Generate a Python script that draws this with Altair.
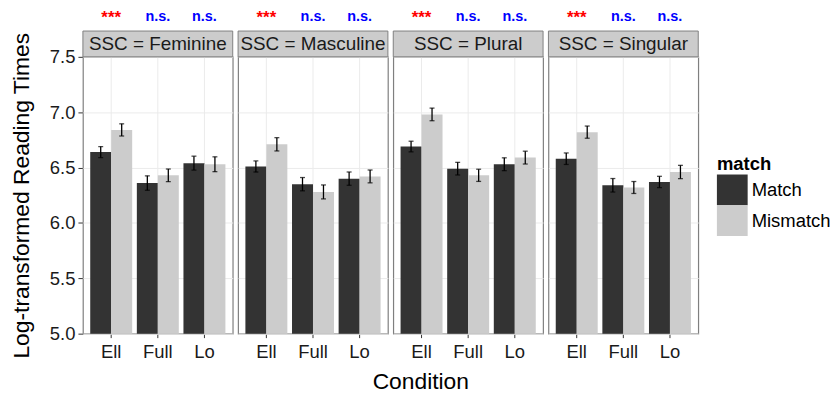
import altair as alt
import pandas as pd

# ---- data ----
ssc_levels = ["Feminine", "Masculine", "Plural", "Singular"]
conditions = ["Ell", "Full", "Lo"]
matches = ["Match", "Mismatch"]
significance = ["***", "n.s.", "n.s."]  # per condition (Ell, Full, Lo)

# means, ordered Ell-Match, Ell-Mismatch, Full-Match, Full-Mismatch, Lo-Match, Lo-Mismatch
mean_feminine = [6.64, 6.84, 6.36, 6.43, 6.54, 6.53]
mean_masculine = [6.51, 6.71, 6.35, 6.28, 6.40, 6.42]
mean_plural = [6.69, 6.98, 6.49, 6.43, 6.53, 6.59]
mean_singular = [6.58, 6.82, 6.34, 6.32, 6.37, 6.46]

# error-bar half widths, same order
err_feminine = [0.050, 0.055, 0.065, 0.057, 0.063, 0.067]
err_masculine = [0.050, 0.060, 0.060, 0.063, 0.060, 0.058]
err_plural = [0.048, 0.057, 0.057, 0.055, 0.058, 0.058]
err_singular = [0.052, 0.055, 0.061, 0.054, 0.051, 0.060]

means = [mean_feminine, mean_masculine, mean_plural, mean_singular]
errs = [err_feminine, err_masculine, err_plural, err_singular]

rows = []
for s, mv, ev in zip(ssc_levels, means, errs):
    k = 0
    for ci, c in enumerate(conditions):
        for m in matches:
            rows.append({
                "SSC": s, "Condition": c, "match": m,
                "mean": mv[k], "lo": mv[k] - ev[k], "hi": mv[k] + ev[k],
                "sig": significance[ci],
            })
            k += 1
df = pd.DataFrame(rows)

FONT = "Liberation Sans"
W = 151
H = 279
SMALL = 18.6
BIG = 23

x_enc = alt.X("Condition:N", title=None, sort=conditions,
              scale=alt.Scale(paddingInner=0.1, paddingOuter=0.157),
              axis=alt.Axis(grid=True, gridColor="#ebebeb", domain=False,
                            tickColor="#333333", tickSize=4, labelFontSize=SMALL,
                            labelColor="#1a1a1a", labelFont=FONT, labelPadding=5,
                            labelAngle=0))
xo_enc = alt.XOffset("match:N", sort=matches,
                     scale=alt.Scale(paddingInner=0, paddingOuter=0))
y_scale = alt.Scale(domain=[5, 7.5], zero=False, nice=False)
y_ticks = [5 + 0.25 * i for i in range(11)]

base = alt.Chart()

strip_rect = base.transform_filter(
    (alt.datum.Condition == "Ell") & (alt.datum.match == "Match")
).mark_rect(fill="#cccccc", stroke="#7f7f7f", strokeWidth=1).encode(
    x=alt.value(0), x2=alt.value(W), y=alt.value(-26), y2=alt.value(0)
)

strip_text = base.transform_filter(
    (alt.datum.Condition == "Ell") & (alt.datum.match == "Match")
).transform_calculate(
    label="'SSC = ' + datum.SSC"
).mark_text(font=FONT, fontSize=19, color="#1a1a1a", baseline="middle").encode(
    x=alt.value(W / 2), y=alt.value(-12.5), text="label:N"
)

bars = base.mark_bar(clip=True).encode(
    x=x_enc,
    xOffset=xo_enc,
    y=alt.Y("mean:Q", scale=y_scale,
            title="Log-transformed Reading Times",
            axis=alt.Axis(values=y_ticks, domain=False,
                          labelExpr="datum.value % 0.5 == 0 ? format(datum.value, '.1f') : ''",
                          gridColor={"condition": {"test": "datum.value % 0.5 == 0", "value": "#ebebeb"},
                                     "value": "#f7f7f7"},
                          tickOpacity={"condition": {"test": "datum.value % 0.5 == 0", "value": 1},
                                       "value": 0},
                          tickColor="#333333", tickSize=5, labelFontSize=SMALL,
                          labelColor="#1a1a1a", labelFont=FONT, labelPadding=3,
                          titleFontSize=BIG, titleFont=FONT, titleFontWeight="normal",
                          titleColor="#000000", titlePadding=16)),
    color=alt.Color("match:N", sort=matches,
                    scale=alt.Scale(domain=matches, range=["#333333", "#cccccc"]),
                    legend=alt.Legend(title="match", orient="none", legendX=639, legendY=99,
                                      symbolType="square", symbolSize=961,
                                      symbolStrokeWidth=0, symbolOpacity=1,
                                      rowPadding=0, labelOffset=4,
                                      titleFontSize=SMALL, titleFont=FONT,
                                      titleFontWeight="bold", titleColor="#000000",
                                      labelFontSize=SMALL, labelFont=FONT, labelColor="#000000",
                                      titlePadding=1)),
)

err_rule = base.mark_rule(color="black", strokeWidth=1.3).encode(
    x=x_enc, xOffset=xo_enc, y="lo:Q", y2="hi:Q"
)
cap_lo = base.mark_tick(color="black", thickness=1.3, size=5, orient="horizontal").encode(
    x=x_enc, xOffset=xo_enc, y="lo:Q"
)
cap_hi = base.mark_tick(color="black", thickness=1.3, size=5, orient="horizontal").encode(
    x=x_enc, xOffset=xo_enc, y="hi:Q"
)

annot_sig = base.transform_filter(
    (alt.datum.match == "Match") & (alt.datum.sig == "***")
).mark_text(
    font=FONT, fontWeight="bold", baseline="alphabetic", fontSize=17, color="#ff0000"
).encode(x=x_enc, y=alt.value(-34), text="sig:N")

annot_ns = base.transform_filter(
    (alt.datum.match == "Match") & (alt.datum.sig == "n.s.")
).mark_text(
    font=FONT, fontWeight="bold", baseline="alphabetic", fontSize=14.5, color="#0000ff"
).encode(x=x_enc, y=alt.value(-36), text="sig:N")

layer = alt.layer(bars, err_rule, cap_lo, cap_hi, strip_rect, strip_text,
                  annot_sig, annot_ns).properties(width=W, height=H)

chart = layer.facet(
    data=df,
    column=alt.Column("SSC:N", sort=ssc_levels, header=None),
    spacing=5.4,
).configure_view(
    stroke="#7f7f7f", strokeWidth=1.2
).properties(
    title=alt.TitleParams("Condition", orient="bottom", anchor="middle",
                          fontSize=BIG, font=FONT, fontWeight="normal",
                          color="#000000", offset=10),
    bounds="flush",
    padding={"left": 2.5, "top": -1.3, "right": 0, "bottom": 0},
    background="white",
)

chart.save("out.html", embed_options={"renderer": "svg", "actions": False})
